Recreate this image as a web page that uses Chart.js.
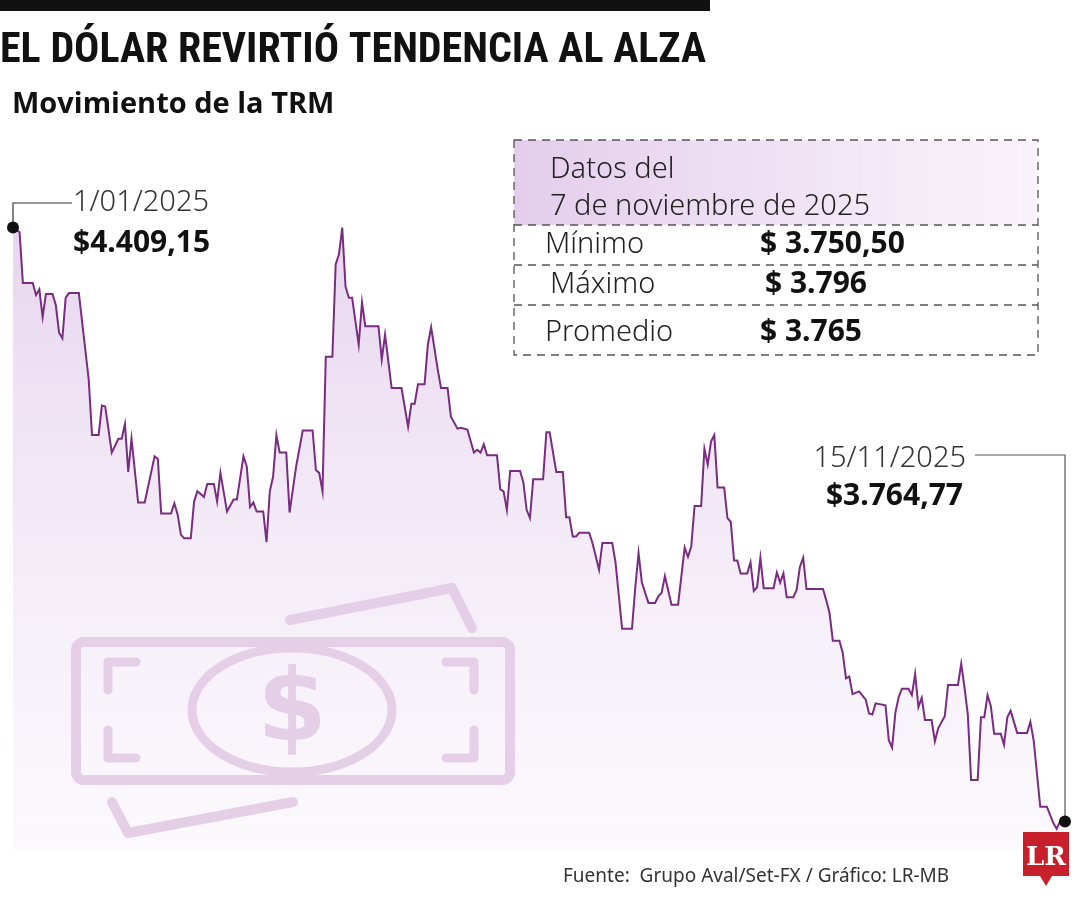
<!DOCTYPE html>
<html><head><meta charset="utf-8">
<script src="https://cdn.jsdelivr.net/npm/chart.js@4"></script>
<style>html,body{margin:0;padding:0;background:#fff}#w{width:1080px;height:900px;position:relative}</style>
</head><body><div id="w"><canvas id="c" width="1080" height="900"></canvas></div>
<script>
const days = [0,2,3,6,7,8,9,10,12,13,14,15,16,17,20,23,24,26,27,28,30,32,33,34,35,36,38,40,43,44,45,48,49,50,51,52,54,55,56,58,59,61,62,63,65,67,68,70,71,72,73,74,76,77,78,79,80,81,83,84,86,88,91,92,93,94,95,97,98,99,100,101,102,103,105,106,107,111,112,113,115,118,120,121,122,123,125,126,127,129,130,132,133,135,136,138,140,141,142,143,144,147,148,149,150,151,154,155,156,157,158,161,162,163,165,167,168,169,170,171,172,175,176,178,179,182,183,185,188,189,190,191,193,195,196,197,198,200,202,204,205,206,207,209,210,211,212,213,214,216,217,218,219,220,221,223,224,225,226,227,228,231,232,233,234,235,237,238,239,240,241,246,247,248,249,251,252,253,254,255,257,259,260,261,262,265,266,267,268,269,270,272,273,274,275,276,277,279,280,281,283,284,287,288,289,290,291,293,294,295,296,297,298,300,301,302,303,305,308,309,310,312,314,315,316,317,318];
const trm = [4409,4404,4349,4349,4336,4342,4312,4337,4337,4325,4295,4289,4333,4338,4338,4244,4184,4184,4216,4215,4165,4180,4180,4196,4144,4180,4111,4111,4161,4158,4099,4099,4110,4098,4076,4072,4072,4112,4123,4117,4131,4131,4112,4143,4101,4114,4114,4161,4150,4106,4111,4101,4101,4068,4123,4139,4184,4165,4165,4100,4150,4189,4189,4146,4143,4123,4269,4269,4369,4380,4409,4345,4333,4333,4282,4328,4302,4302,4266,4293,4235,4235,4193,4218,4218,4239,4239,4282,4301,4255,4235,4235,4204,4191,4192,4190,4165,4168,4165,4174,4162,4162,4125,4123,4103,4145,4145,4133,4103,4094,4136,4136,4187,4187,4144,4144,4095,4095,4074,4074,4078,4078,4067,4038,4067,4067,4046,3974,3974,4019,4056,4024,4002,4002,4009,4013,4031,4000,4000,4062,4052,4063,4107,4107,4169,4152,4177,4184,4127,4127,4094,4090,4048,4048,4034,4034,4046,4015,4019,4051,4018,4018,4035,4024,4034,4008,4008,4016,4041,4051,4017,4017,4005,3991,3961,3961,3948,3920,3922,3903,3906,3897,3882,3881,3893,3891,3853,3845,3883,3900,3909,3909,3902,3925,3889,3899,3875,3875,3852,3866,3879,3913,3913,3936,3910,3881,3810,3810,3878,3878,3902,3890,3860,3860,3848,3878,3885,3861,3861,3873,3853,3781,3781,3772,3763,3757,3765];
const startLabel = ["1/01/2025","$4.409,15"];
const endLabel = ["15/11/2025","$3.764,77"];
const boxRows = [["Mínimo","$ 3.750,50"],["Máximo","$ 3.796"],["Promedio","$ 3.765"]];

const pts = days.map((d,i)=>({x:d,y:trm[i]}));
const F = '"Noto Sans", "Open Sans", sans-serif';
const IC = '#d9b8da';

const deco = {
  id:'deco',
  beforeDatasetsDraw(ch){
    const c = ch.ctx; c.save();
    c.strokeStyle=IC; c.lineWidth=10; c.lineJoin='round'; c.lineCap='round';
    c.beginPath(); c.moveTo(290,620); c.lineTo(452,588); c.lineTo(472,628); c.stroke();
    c.beginPath(); c.moveTo(112,802); c.lineTo(128,833); c.lineTo(293,802); c.stroke();
    c.beginPath(); c.roundRect(76,642,434,138,8); c.stroke();
    c.lineWidth=9;
    c.beginPath(); c.moveTo(108,690); c.lineTo(108,662); c.lineTo(136,662); c.stroke();
    c.beginPath(); c.moveTo(446,662); c.lineTo(474,662); c.lineTo(474,690); c.stroke();
    c.beginPath(); c.moveTo(108,730); c.lineTo(108,758); c.lineTo(136,758); c.stroke();
    c.beginPath(); c.moveTo(446,758); c.lineTo(474,758); c.lineTo(474,730); c.stroke();
    c.beginPath(); c.ellipse(292,710,100,62,0,0,Math.PI*2); c.stroke();
    c.fillStyle=IC; c.font='bold 100px "DejaVu Sans", sans-serif'; c.textAlign='center'; c.textBaseline='middle';
    c.fillText('$',292,714);
    c.restore();
  },
  afterDraw(ch){
    const c = ch.ctx; c.save();
    const xs=ch.scales.x, ys=ch.scales.y;
    c.fillStyle='#111'; c.fillRect(0,0,710,11);
    c.textBaseline='alphabetic'; c.textAlign='left';
    c.font='bold 42px "Liberation Sans Narrow", "Roboto Condensed", "Liberation Sans", sans-serif';
    c.fillText('EL DÓLAR REVIRTIÓ TENDENCIA AL ALZA',0,62,708);
    c.font='bold 29px "Open Sans", '+F; c.fillText('Movimiento de la TRM',12,113,348);
    const g=c.createLinearGradient(514,0,1038,0);
    g.addColorStop(0,'rgba(222,196,232,0.85)'); g.addColorStop(1,'rgba(244,234,247,0.6)');
    c.fillStyle=g; c.fillRect(514,140,524,85);
    c.strokeStyle='#555'; c.lineWidth=1.3; c.setLineDash([8,6]);
    c.strokeRect(514,140,524,215);
    [225,265,305].forEach(y=>{c.beginPath();c.moveTo(514,y);c.lineTo(1038,y);c.stroke();});
    c.setLineDash([]);
    c.fillStyle='#222'; c.font='300 29px '+F;
    c.fillText('Datos del',550,178); c.fillText('7 de noviembre de 2025',550,215,343);
    const ry=[253,293,341], lx=[545,550,545], vx=[760,765,760];
    boxRows.forEach((r,i)=>{c.font='300 29px '+F; c.fillStyle='#222'; c.fillText(r[0],lx[i],ry[i]);
      c.font='bold 30px '+F; c.fillStyle='#111'; c.fillText(r[1],vx[i],ry[i]);});
    const x0=xs.getPixelForValue(days[0]), y0=ys.getPixelForValue(trm[0]);
    c.strokeStyle='#333'; c.lineWidth=1.2;
    c.beginPath(); c.moveTo(x0,y0); c.lineTo(x0,203); c.lineTo(72,203); c.stroke();
    c.fillStyle='#111'; c.beginPath(); c.arc(x0,y0,6,0,Math.PI*2); c.fill();
    c.font='300 29px '+F; c.fillStyle='#333'; c.fillText(startLabel[0],73,211);
    c.font='bold 30px '+F; c.fillStyle='#111'; c.fillText(startLabel[1],73,252);
    const n=days.length-1, y1=ys.getPixelForValue(trm[n]);
    c.strokeStyle='#555';
    c.beginPath(); c.moveTo(975,455); c.lineTo(1065,455); c.lineTo(1065,y1); c.stroke();
    c.fillStyle='#111'; c.beginPath(); c.arc(1065,y1,6,0,Math.PI*2); c.fill();
    c.textAlign='right';
    c.font='300 29px '+F; c.fillStyle='#333'; c.fillText(endLabel[0],966,467);
    c.font='bold 30px '+F; c.fillStyle='#111'; c.fillText(endLabel[1],963,505);
    c.textAlign='left'; c.font='19px '+F; c.fillStyle='#333';
    c.fillText('Fuente:  Grupo Aval/Set-FX / Gráfico: LR-MB',563,882,425);
    c.fillStyle='#c8202a'; c.fillRect(1023,832,46,44);
    c.beginPath(); c.moveTo(1040,876); c.lineTo(1046,886); c.lineTo(1052,876); c.fill();
    c.fillStyle='#fff'; c.font='bold 26px "DejaVu Serif", "Liberation Serif", serif'; c.textAlign='center';
    c.fillText('LR',1046,865);
    c.restore();
  }
};

new Chart(document.getElementById('c'),{
  type:'line',
  data:{datasets:[{data:pts,borderColor:'#7a2c82',borderWidth:2,pointRadius:0,tension:0,
    fill:'start',
    backgroundColor:(ctx)=>{const a=ctx.chart.chartArea; if(!a) return 'rgba(230,210,238,0.6)';
      const g=ctx.chart.ctx.createLinearGradient(0,a.top,0,a.bottom);
      g.addColorStop(0,'rgba(222,198,232,0.85)'); g.addColorStop(1,'rgba(246,240,249,0.4)'); return g;}}]},
  options:{responsive:false,animation:false,
    layout:{padding:{left:13,right:20,top:140,bottom:50}},
    plugins:{legend:{display:false},tooltip:{enabled:false}},
    scales:{x:{type:'linear',min:0,max:318,display:false},
            y:{min:3734,max:4504,display:false}}},
  plugins:[deco]
});
</script></body></html>
